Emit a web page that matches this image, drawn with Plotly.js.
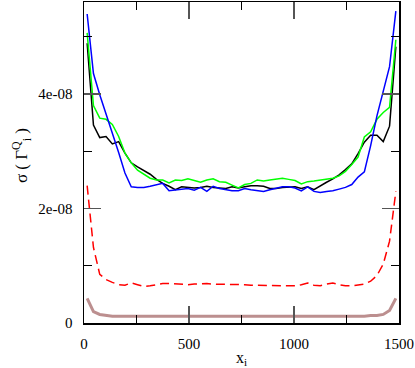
<!DOCTYPE html>
<html>
<head>
<meta charset="utf-8">
<script src="https://cdn.plot.ly/plotly-3.0.1.min.js"></script>
<style>html,body{margin:0;padding:0;background:#fff;}#chart{width:415px;height:368px;}</style>
</head>
<body>
<div id="chart"></div>
<script>
// x positions (x_i)
const xVals = [15,45,75,105,135,165,195,225,255,285,315,345,375,405,435,465,495,525,555,585,615,645,675,705,735,765,795,825,855,885,915,945,975,1005,1035,1065,1095,1125,1155,1185,1215,1245,1275,1305,1335,1365,1395,1425,1455,1485];

// series values in units of 1e-8
const blackVals = [4.89,3.46,3.24,3.26,3.13,3.17,2.97,2.80,2.73,2.67,2.60,2.51,2.44,2.39,2.33,2.38,2.37,2.36,2.37,2.39,2.37,2.36,2.35,2.38,2.36,2.38,2.40,2.40,2.39,2.35,2.35,2.37,2.38,2.38,2.35,2.38,2.33,2.40,2.46,2.52,2.59,2.68,2.78,2.96,3.16,3.28,3.28,3.17,3.44,4.83];
const greenVals = [5.07,3.80,3.58,3.56,3.47,3.26,2.97,2.80,2.67,2.60,2.53,2.50,2.50,2.45,2.50,2.49,2.52,2.49,2.46,2.50,2.52,2.47,2.46,2.41,2.36,2.42,2.44,2.50,2.48,2.50,2.52,2.53,2.51,2.49,2.43,2.47,2.48,2.50,2.51,2.53,2.57,2.65,2.77,2.90,3.25,3.34,3.56,3.68,3.77,4.95];
const blueVals = [5.40,4.36,3.99,3.66,3.32,2.98,2.62,2.38,2.37,2.37,2.39,2.41,2.44,2.31,2.32,2.34,2.35,2.32,2.37,2.30,2.39,2.35,2.33,2.31,2.31,2.35,2.33,2.31,2.30,2.33,2.36,2.38,2.38,2.36,2.31,2.38,2.30,2.28,2.30,2.31,2.34,2.37,2.42,2.55,2.64,3.10,3.62,4.07,4.48,5.45];
const redVals = [2.40,1.32,0.85,0.76,0.71,0.67,0.66,0.70,0.67,0.64,0.65,0.67,0.69,0.69,0.68,0.67,0.67,0.68,0.69,0.69,0.68,0.68,0.67,0.67,0.68,0.67,0.66,0.66,0.65,0.65,0.66,0.65,0.65,0.65,0.67,0.70,0.66,0.65,0.68,0.70,0.67,0.65,0.65,0.67,0.68,0.73,0.83,1.03,1.43,2.30];
const brownVals = [0.43,0.20,0.15,0.13,0.12,0.12,0.12,0.115,0.115,0.115,0.11,0.11,0.115,0.115,0.115,0.115,0.115,0.115,0.115,0.12,0.115,0.115,0.115,0.115,0.115,0.12,0.115,0.115,0.115,0.115,0.115,0.115,0.12,0.115,0.115,0.115,0.115,0.115,0.115,0.115,0.115,0.12,0.12,0.12,0.12,0.13,0.13,0.15,0.22,0.43];

const scale = 1e-8;
const yTickVals = [0, 2e-8, 4e-8];
const yTickText = ["0", "2e-08", "4e-08"];
const xTickVals = [0, 500, 1000, 1500];
const yTitle = 'σ ( Γ<sup>Q</sup><sub>i</sub> )';
const xTitle = 'x<sub>i</sub>';

const sc = a => a.map(v => v * scale);

const traces = [
  {x: xVals, y: sc(brownVals), mode: 'lines', line: {color: '#bc8f8f', width: 3}},
  {x: xVals, y: sc(redVals), mode: 'lines', line: {color: '#ff0000', width: 1.5, dash: '9px,5px'}},
  {x: xVals, y: sc(blackVals), mode: 'lines', line: {color: '#000000', width: 1.5}},
  {x: xVals, y: sc(greenVals), mode: 'lines', line: {color: '#00ff00', width: 1.5}},
  {x: xVals, y: sc(blueVals), mode: 'lines', line: {color: '#0000ff', width: 1.5}}
];

const serif = 'Liberation Serif';
const tickFont = {family: serif, size: 15, color: '#000'};

const layout = {
  width: 415, height: 368,
  margin: {l: 84, r: 16, t: 2, b: 45, pad: 0},
  paper_bgcolor: '#fff', plot_bgcolor: '#fff',
  showlegend: false,
  font: {family: serif, size: 15, color: '#000'},
  xaxis: {
    range: [0, 1500], tickmode: 'array', tickvals: xTickVals,
    ticks: 'inside', ticklen: 17, tickwidth: 1.5, tickcolor: '#555',
    minor: {ticks: 'inside', dtick: 250, tick0: 0, ticklen: 8, tickwidth: 1, tickcolor: '#000', showgrid: false},
    showline: true, linecolor: '#000', linewidth: 1.5, mirror: 'ticks',
    showgrid: false, zeroline: false, tickfont: tickFont, ticklabelstandoff: 6,
    title: {text: xTitle, font: {family: serif, size: 16, color: '#000'}, standoff: 4}
  },
  yaxis: {
    range: [0, 5.61e-8], tickmode: 'array', tickvals: yTickVals, ticktext: yTickText,
    ticks: 'inside', ticklen: 17, tickwidth: 1.5, tickcolor: '#555',
    minor: {ticks: 'inside', dtick: 1e-8, tick0: 0, ticklen: 8, tickwidth: 1, tickcolor: '#000', showgrid: false},
    showline: true, linecolor: '#000', linewidth: 1.5, mirror: 'ticks',
    showgrid: false, zeroline: false, tickfont: tickFont, ticklabelstandoff: 7
  },
  annotations: [{
    text: yTitle, xref: 'paper', yref: 'paper', x: -0.2, y: 0.52,
    xanchor: 'center', yanchor: 'middle', textangle: -90, showarrow: false,
    font: {family: serif, size: 17, color: '#000'}
  }]
};

Plotly.newPlot('chart', traces, layout, {staticPlot: true, displayModeBar: false});
</script>
</body>
</html>
